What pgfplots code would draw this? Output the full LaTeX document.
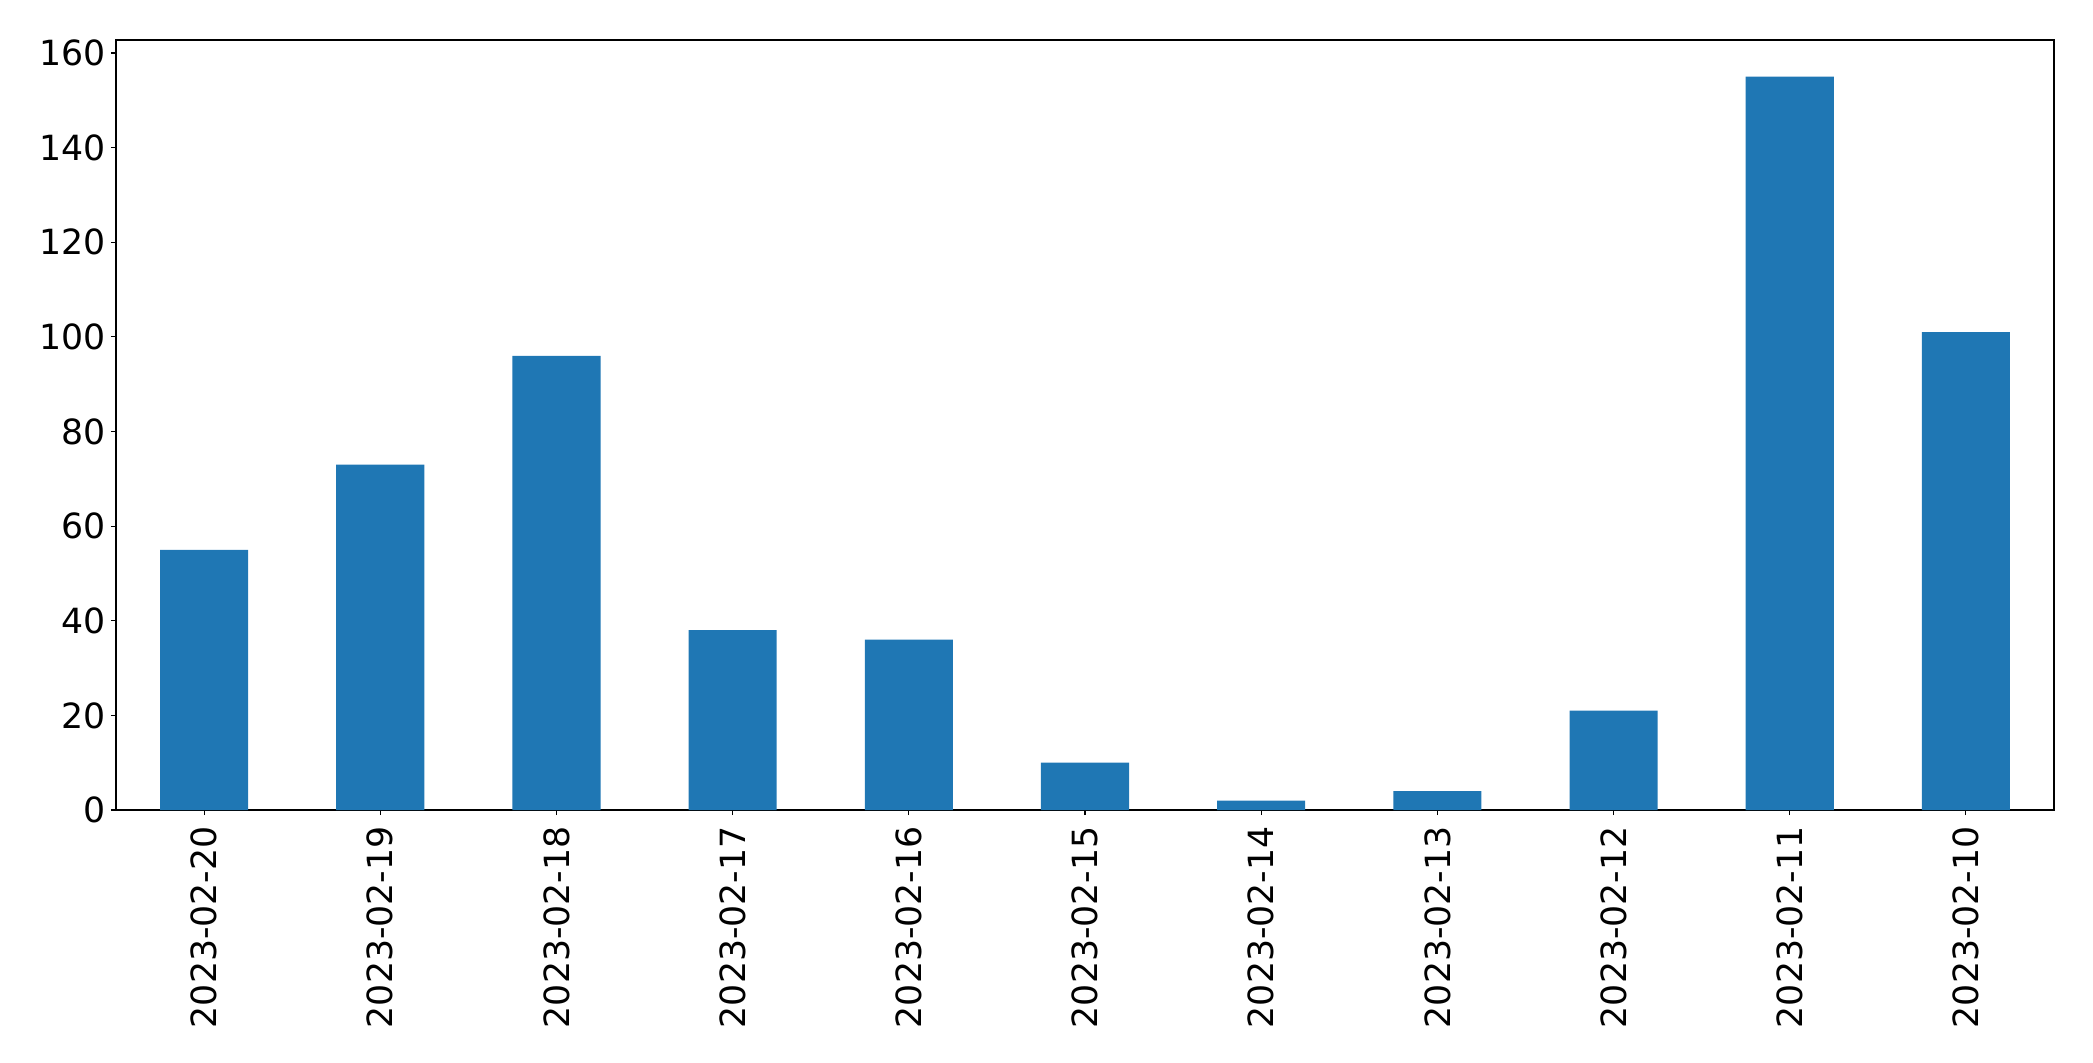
\documentclass[border=0pt]{standalone}
\usepackage{pgfplots}
\pgfplotsset{compat=1.18}
\usepackage{fontspec}
\setmainfont{DejaVu Sans}
\definecolor{mplblue}{RGB}{31,119,180}

\pgfplotstableread{
x  y
0  55
1  73
2  96
3  38
4  36
5  10
6  2
7  4
8  21
9  155
10 101
}\counts

\begin{document}
\fontsize{17.35}{20}\selectfont
\begin{tikzpicture}
% fix the page to the reference's size (1pt = 2px)
\path[use as bounding box] (-58pt,-126pt) rectangle (988.5pt,405pt);
\begin{axis}[
    at={(0,0)}, anchor=south west,
    scale only axis,
    width=969pt, height=385pt,
    xmin=-0.5, xmax=10.5,
    ymin=0, ymax=162.75,
    axis line style={line width=0.55pt},
    tick align=outside,
    tick pos=left,
    major tick length=2.5pt,
    tick style={line width=0.55pt, black},
    xtick={0,...,10},
    xticklabels={2023-02-20,2023-02-19,2023-02-18,2023-02-17,2023-02-16,2023-02-15,2023-02-14,2023-02-13,2023-02-12,2023-02-11,2023-02-10},
    ytick={0,20,40,60,80,100,120,140,160},
    % rotated frame: xshift<0 moves the label down
    x tick label style={rotate=90, anchor=east, inner sep=0pt, xshift=-5.5pt},
    y tick label style={inner sep=0pt, xshift=-2.45pt},
    /pgf/number format/assume math mode=true,
]
\addplot[ybar, bar width=0.5, fill=mplblue, draw=none] table[x=x, y=y] {\counts};
\end{axis}
\end{tikzpicture}
\end{document}
